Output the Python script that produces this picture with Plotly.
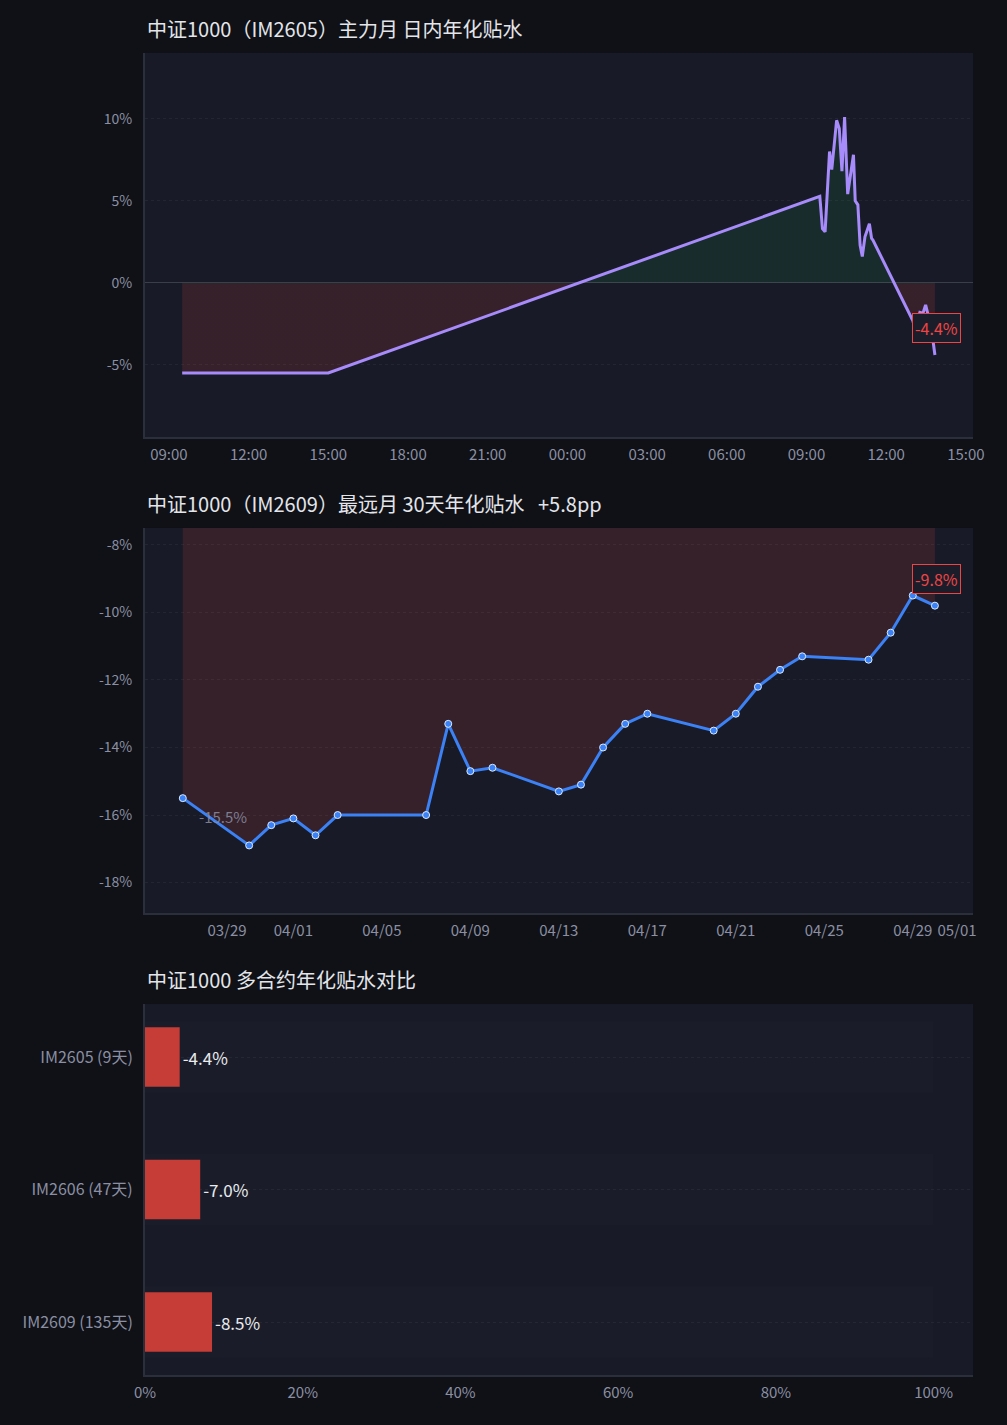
import plotly.graph_objects as go

# ---- data ----
# intraday annualized basis, IM2605 (two sessions)
intraday_time = [
    "2026-04-29 09:30", "2026-04-29 11:30", "2026-04-29 13:00", "2026-04-29 15:00",
    "2026-04-30 09:30", "2026-04-30 09:36", "2026-04-30 09:42", "2026-04-30 09:52",
    "2026-04-30 09:57", "2026-04-30 10:08", "2026-04-30 10:14", "2026-04-30 10:20",
    "2026-04-30 10:26", "2026-04-30 10:33", "2026-04-30 10:46", "2026-04-30 10:50",
    "2026-04-30 10:56", "2026-04-30 11:01", "2026-04-30 11:06", "2026-04-30 11:12",
    "2026-04-30 11:22", "2026-04-30 11:27", "2026-04-30 11:30",
    "2026-04-30 13:00", "2026-04-30 13:05", "2026-04-30 13:16", "2026-04-30 13:23",
    "2026-04-30 13:29", "2026-04-30 13:35", "2026-04-30 13:40", "2026-04-30 13:45",
    "2026-04-30 13:50",
]
intraday_basis = [
    -5.5, -5.5, -5.5, -5.5,
    5.26, 3.3, 3.1, 8.0,
    6.9, 9.9, 9.4, 6.8,
    10.1, 5.4, 7.8, 5.0,
    4.75, 2.3, 1.6, 2.8,
    3.6, 2.7, 2.6,
    -2.3, -2.8, -1.8, -1.85,
    -1.35, -2.0, -2.7, -3.4,
    -4.4,
]
intraday_yticks = [-5, 0, 5, 10]

# far month (IM2609) 30-day annualized basis, daily
far_dates = [
    "2026-03-27", "2026-03-30", "2026-03-31", "2026-04-01", "2026-04-02", "2026-04-03",
    "2026-04-07", "2026-04-08", "2026-04-09", "2026-04-10", "2026-04-13", "2026-04-14",
    "2026-04-15", "2026-04-16", "2026-04-17", "2026-04-20", "2026-04-21", "2026-04-22",
    "2026-04-23", "2026-04-24", "2026-04-27", "2026-04-28", "2026-04-29", "2026-04-30",
]
far_basis = [
    -15.5, -16.9, -16.3, -16.1, -16.6, -16.0,
    -16.0, -13.3, -14.7, -14.6, -15.3, -15.1,
    -14.0, -13.3, -13.0, -13.5, -13.0, -12.2,
    -11.7, -11.3, -11.4, -10.6, -9.5, -9.8,
]
far_ticks = ["2026-03-29", "2026-04-01", "2026-04-05", "2026-04-09", "2026-04-13",
             "2026-04-17", "2026-04-21", "2026-04-25", "2026-04-29", "2026-05-01"]
far_yticks = [-18, -16, -14, -12, -10, -8]

# contract comparison
contracts = ["IM2605 (9天)", "IM2606 (47天)", "IM2609 (135天)"]
contract_basis = [-4.4, -7.0, -8.5]

# ---- style ----
FONT = "Noto Sans CJK SC"
PAPER = "#0f1116"
PLOT = "#181b27"
GRID = "rgba(255,255,255,0.05)"
AXIS = "#2b2e3b"
TICK = "#8b8fa3"
TITLE = "#e3e5ea"
RED = "#ef4444"

fig = go.Figure()

# top: intraday
fig.add_trace(go.Scatter(
    x=intraday_time, y=intraday_basis, mode="lines",
    line=dict(color="#a78bfa", width=3),
    fill="tozeroy",
    fillgradient=dict(type="vertical",
                      colorscale=[[0, "rgba(239,68,68,0.14)"], [1, "rgba(34,197,94,0.10)"]],
                      start=-0.05, stop=0.05),
    xaxis="x", yaxis="y", hoverinfo="skip", showlegend=False,
))

# middle: far month
fig.add_trace(go.Scatter(
    x=far_dates, y=far_basis, mode="lines+markers",
    line=dict(color="#3b82f6", width=3),
    marker=dict(size=7, color="#3b82f6", line=dict(color="#dbeafe", width=1)),
    fill="tozeroy", fillcolor="rgba(239,68,68,0.14)",
    xaxis="x2", yaxis="y2", hoverinfo="skip", showlegend=False,
))

# bottom: comparison bars (track + value)
fig.add_trace(go.Bar(
    y=contracts, x=[100] * len(contracts), orientation="h", width=0.54,
    marker=dict(color="rgba(255,255,255,0.012)", line=dict(width=0)),
    xaxis="x3", yaxis="y3", hoverinfo="skip", showlegend=False,
))
fig.add_trace(go.Bar(
    y=contracts, x=[abs(v) for v in contract_basis], orientation="h", width=0.45,
    marker=dict(color="#c53d36", line=dict(width=0)),
    text=[f"{v:.1f}%" for v in contract_basis], textposition="outside",
    textfont=dict(color="#e8eaee", size=17), cliponaxis=False,
    xaxis="x3", yaxis="y3", hoverinfo="skip", showlegend=False,
))

axis_common = dict(showline=True, linecolor=AXIS, linewidth=2, ticks="")
xfont = dict(color=TICK, size=15)
yfont = dict(color=TICK, size=14)
ygrid = dict(showgrid=True, gridcolor=GRID, griddash="dot", ticklabelstandoff=8)

fig.update_layout(
    width=1007, height=1425,
    paper_bgcolor=PAPER, plot_bgcolor=PLOT,
    font=dict(family=FONT, color=TICK),
    margin=dict(l=145, r=34, t=53, b=50),
    barmode="overlay",
    xaxis=dict(domain=[0, 1], anchor="y", type="date",
               range=["2026-04-29 08:06", "2026-04-30 15:16"],
               dtick=3 * 3600 * 1000, tick0="2026-04-29 00:00", tickformat="%H:%M",
               showgrid=False, zeroline=False, ticklabelstandoff=3, tickfont=xfont,
               **axis_common),
    yaxis=dict(domain=[0.7095, 1.0], anchor="x", range=[-9.4, 14],
               tickvals=intraday_yticks, ticktext=[f"{v}%" for v in intraday_yticks],
               zeroline=True, zerolinecolor="#3a3d4a", zerolinewidth=1,
               tickfont=yfont, **ygrid, **axis_common),
    xaxis2=dict(domain=[0, 1], anchor="y2", type="date",
                range=["2026-03-25 07:00", "2026-05-01 17:20"],
                tickvals=far_ticks, tickformat="%m/%d",
                showgrid=False, zeroline=False, ticklabelstandoff=3, tickfont=xfont,
                **axis_common),
    yaxis2=dict(domain=[0.3495, 0.6407], anchor="x2", range=[-18.9, -7.5],
                tickvals=far_yticks, ticktext=[f"{v}%" for v in far_yticks],
                zeroline=False, tickfont=yfont, **ygrid, **axis_common),
    xaxis3=dict(domain=[0, 1], anchor="y3", range=[0, 105], dtick=20,
                ticksuffix="%", showgrid=False, zeroline=False, ticklabelstandoff=3,
                tickfont=xfont, **axis_common),
    yaxis3=dict(domain=[0, 0.2806], anchor="x3", range=[2.4, -0.4],
                showgrid=True, gridcolor=GRID, griddash="dot", ticklabelstandoff=7,
                zeroline=False, tickfont=dict(color=TICK, size=16), **axis_common),
)

titles = [
    ("中证1000（IM2605）主力月 日内年化贴水", "y domain"),
    ("中证1000（IM2609）最远月 30天年化贴水\u00a0\u00a0\u00a0+5.8pp", "y2 domain"),
    ("中证1000 多合约年化贴水对比", "y3 domain"),
]
for text, yref in titles:
    fig.add_annotation(text=text, xref="paper", yref=yref, x=0, y=1,
                       xanchor="left", yanchor="bottom", yshift=8, showarrow=False,
                       font=dict(family=FONT, size=20, color=TITLE))

box = dict(showarrow=False, font=dict(color=RED, size=16), bgcolor="#1b1e2a",
           bordercolor=RED, borderwidth=1, borderpad=2, xshift=2, yshift=27)
fig.add_annotation(x=intraday_time[-1], y=intraday_basis[-1], xref="x", yref="y",
                   text=f"{intraday_basis[-1]:.1f}%", **box)
fig.add_annotation(x=far_dates[-1], y=far_basis[-1], xref="x2", yref="y2",
                   text=f"{far_basis[-1]:.1f}%", **box)
fig.add_annotation(x=far_dates[0], y=far_basis[0], xref="x2", yref="y2",
                   text=f"{far_basis[0]:.1f}%", showarrow=False, xanchor="left",
                   xshift=14, yshift=-18, font=dict(color="rgba(139,143,163,0.85)", size=15))

# drop the default 8px page margin so the figure sits at the window corner
page_fix = "document.body.style.margin='0';document.body.style.background='#0f1116';"
fig.write_html("out.html", post_script=page_fix, config={"displayModeBar": False})
